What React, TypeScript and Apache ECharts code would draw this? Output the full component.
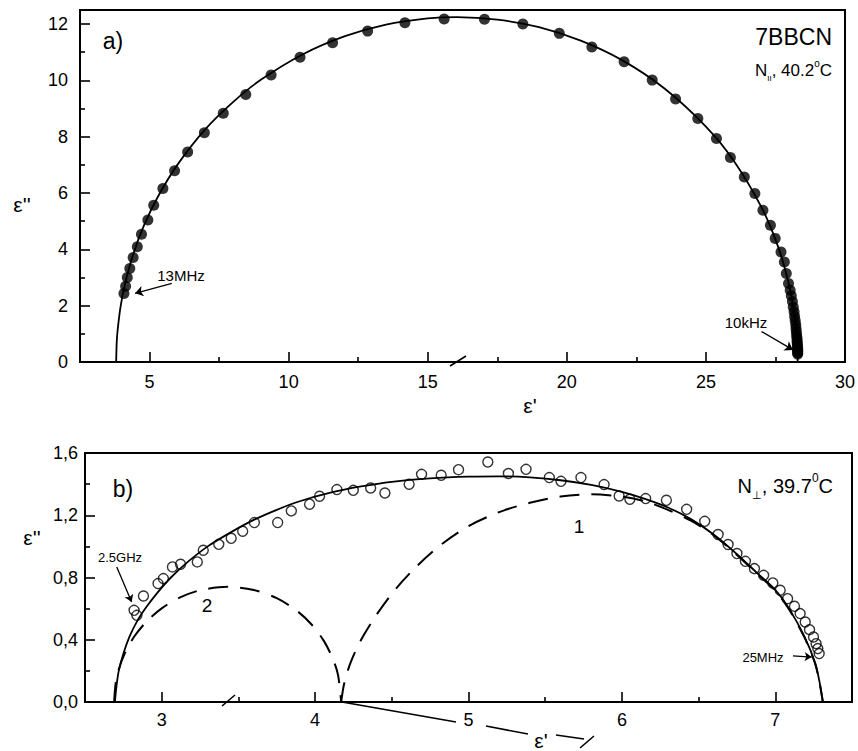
import React, { useEffect, useRef } from 'react';
import * as echarts from 'echarts';

// ---------- panel a) data ----------
const topPtsX = [4.08, 4.14, 4.2, 4.29, 4.41, 4.56, 4.71, 4.94, 5.15, 5.48, 5.9, 6.37, 6.97, 7.65, 8.46, 9.37, 10.41, 11.58, 12.84, 14.18, 15.59, 17.04, 18.42, 19.73, 20.9, 22.06, 23.07, 23.91, 24.71, 25.38, 25.88, 26.38, 26.76, 27.05, 27.32, 27.49, 27.7, 27.82, 27.89, 27.97, 28.03, 28.07, 28.11, 28.14, 28.17, 28.19, 28.21, 28.23, 28.24, 28.25, 28.26, 28.27, 28.28, 28.28, 28.29, 28.29, 28.3, 28.3, 28.3, 28.3, 28.3];
const topPtsY = [2.43, 2.69, 3.0, 3.32, 3.71, 4.09, 4.54, 5.04, 5.57, 6.16, 6.79, 7.46, 8.14, 8.83, 9.5, 10.19, 10.82, 11.34, 11.75, 12.05, 12.18, 12.17, 12.0, 11.67, 11.19, 10.66, 10.01, 9.34, 8.65, 7.94, 7.26, 6.57, 5.98, 5.39, 4.86, 4.39, 3.91, 3.55, 3.14, 2.79, 2.55, 2.35, 2.15, 1.95, 1.78, 1.62, 1.47, 1.33, 1.2, 1.08, 0.97, 0.87, 0.78, 0.7, 0.62, 0.55, 0.48, 0.42, 0.37, 0.32, 0.28];
const topFitX = [3.8, 3.82, 3.85, 3.95, 4.1, 4.4, 4.8, 5.3, 6.0, 7.0, 8.0, 9.0, 10.5, 12.0, 13.5, 15.0, 16.05, 17.5, 19.0, 20.5, 22.0, 23.5, 25.0, 26.0, 27.0, 27.6, 28.0, 28.2, 28.27, 28.29, 28.3];
const topFitY = [0, 0.7, 1.1, 1.91, 2.69, 3.79, 4.85, 5.87, 7.0, 8.26, 9.23, 10.02, 10.92, 11.56, 11.98, 12.2, 12.25, 12.16, 11.89, 11.41, 10.71, 9.72, 8.36, 7.15, 5.49, 4.08, 2.69, 1.56, 0.85, 0.45, 0];
const topXMajor = [5, 10, 15, 20, 25, 30];
const topXMinor = [7.5, 12.5, 17.5, 22.5, 27.5];
const topYMajor = [0, 2, 4, 6, 8, 10, 12];
const topYMinor = [1, 3, 5, 7, 9, 11];

// ---------- panel b) data ----------
const botPtsX = [2.82, 2.838, 2.881, 2.976, 3.011, 3.07, 3.123, 3.232, 3.271, 3.372, 3.453, 3.528, 3.604, 3.756, 3.845, 3.964, 4.029, 4.142, 4.249, 4.362, 4.455, 4.613, 4.694, 4.822, 4.935, 5.126, 5.26, 5.375, 5.527, 5.603, 5.733, 5.884, 5.982, 6.052, 6.155, 6.29, 6.422, 6.54, 6.627, 6.692, 6.75, 6.805, 6.864, 6.924, 6.984, 7.032, 7.08, 7.125, 7.162, 7.195, 7.223, 7.249, 7.266, 7.277, 7.286];
const botPtsY = [0.589, 0.557, 0.681, 0.761, 0.793, 0.868, 0.885, 0.9, 0.975, 1.013, 1.052, 1.097, 1.153, 1.153, 1.228, 1.271, 1.322, 1.365, 1.36, 1.375, 1.343, 1.399, 1.463, 1.457, 1.493, 1.542, 1.468, 1.495, 1.442, 1.418, 1.442, 1.397, 1.324, 1.303, 1.307, 1.296, 1.238, 1.161, 1.076, 1.012, 0.954, 0.904, 0.857, 0.814, 0.765, 0.718, 0.664, 0.615, 0.568, 0.514, 0.465, 0.418, 0.375, 0.343, 0.311];
const botFitX = [2.695, 2.705, 2.72, 2.75, 2.79, 2.84, 2.9, 2.97, 3.06, 3.17, 3.3, 3.45, 3.6, 3.75, 3.9, 4.1, 4.3, 4.5, 4.75, 5.0, 5.2, 5.4, 5.6, 5.8, 6.0, 6.15, 6.3, 6.45, 6.6, 6.75, 6.88, 7.0, 7.09, 7.19, 7.26, 7.29, 7.31];
const botFitY = [0, 0.1, 0.2, 0.31, 0.42, 0.52, 0.61, 0.7, 0.8, 0.9, 1.0, 1.09, 1.17, 1.235, 1.29, 1.345, 1.385, 1.415, 1.437, 1.448, 1.45, 1.443, 1.425, 1.395, 1.35, 1.305, 1.25, 1.175, 1.075, 0.95, 0.83, 0.72, 0.6, 0.42, 0.25, 0.12, 0];
const dash1X = [4.17, 4.19, 4.23, 4.3, 4.4, 4.52, 4.66, 4.82, 5.0, 5.2, 5.4, 5.6, 5.8, 6.0, 6.15, 6.3, 6.45, 6.6, 6.75, 6.88, 7.0, 7.09, 7.19, 7.26, 7.29, 7.31];
const dash1Y = [0, 0.12, 0.25, 0.4, 0.56, 0.72, 0.87, 1.01, 1.13, 1.22, 1.28, 1.32, 1.335, 1.32, 1.29, 1.235, 1.165, 1.07, 0.945, 0.825, 0.715, 0.595, 0.415, 0.245, 0.115, 0];
const dash2X = [2.69, 2.7, 2.72, 2.76, 2.82, 2.9, 3.0, 3.12, 3.25, 3.43, 3.6, 3.75, 3.88, 3.98, 4.06, 4.12, 4.15, 4.17];
const dash2Y = [0, 0.121, 0.209, 0.314, 0.419, 0.516, 0.602, 0.672, 0.718, 0.74, 0.72, 0.667, 0.587, 0.495, 0.388, 0.267, 0.171, 0];
const botXMajor = [3, 4, 5, 6, 7];
const botXMinor = [3.5, 4.5, 5.5, 6.5];
const botYMajor = [0, 0.4, 0.8, 1.2, 1.6];
const botYMinor = [0.2, 0.6, 1.0, 1.4];

const FONT = '"Liberation Sans", Arial, Helvetica, sans-serif';
const zip = (xs: number[], ys: number[]) => xs.map((x, i) => [x, ys[i]]);

function majorX(grid: number, min: number, max: number, ticks: number[], fmt: (v: number) => string, margin: number) {
  return {
    type: 'value', gridIndex: grid, min, max, position: 'bottom',
    axisLine: { show: true, onZero: false, lineStyle: { color: '#000', width: 2 } },
    axisTick: { show: true, inside: true, length: 10, customValues: ticks, lineStyle: { color: '#000', width: 1.6 } },
    axisLabel: { show: true, customValues: ticks, formatter: fmt, margin, color: '#000', fontSize: 18, fontFamily: FONT },
    splitLine: { show: false },
  };
}
function minorX(grid: number, min: number, max: number, ticks: number[]) {
  return {
    type: 'value', gridIndex: grid, min, max, position: 'bottom',
    axisLine: { show: false },
    axisTick: { show: true, inside: true, length: 5, customValues: ticks, lineStyle: { color: '#000', width: 1.6 } },
    axisLabel: { show: false },
    splitLine: { show: false },
  };
}
function majorY(grid: number, min: number, max: number, ticks: number[], fmt: (v: number) => string, margin: number) {
  return {
    type: 'value', gridIndex: grid, min, max, position: 'left',
    axisLine: { show: true, onZero: false, lineStyle: { color: '#000', width: 2 } },
    axisTick: { show: true, inside: true, length: 10, customValues: ticks, lineStyle: { color: '#000', width: 1.6 } },
    axisLabel: { show: true, customValues: ticks, formatter: fmt, margin, color: '#000', fontSize: 18, fontFamily: FONT },
    splitLine: { show: false },
  };
}
function minorY(grid: number, min: number, max: number, ticks: number[]) {
  return {
    type: 'value', gridIndex: grid, min, max, position: 'left',
    axisLine: { show: false },
    axisTick: { show: true, inside: true, length: 5, customValues: ticks, lineStyle: { color: '#000', width: 1.6 } },
    axisLabel: { show: false },
    splitLine: { show: false },
  };
}

const txt = (x: number, y: number, text: string, fontSize: number, align = 'center', extra: any = {}) => ({
  type: 'text', x, y, silent: true,
  style: { text, fontSize, fontFamily: FONT, fill: '#000', align, verticalAlign: 'middle', ...extra },
});
const seg = (x1: number, y1: number, x2: number, y2: number, w = 1.6) => ({
  type: 'line', silent: true, shape: { x1, y1, x2, y2 }, style: { stroke: '#000', lineWidth: w },
});

export default function App() {
  const ref = useRef<HTMLDivElement>(null);
  useEffect(() => {
    if (!ref.current) return;
    const chart = echarts.init(ref.current, undefined, { renderer: 'svg' });
    const arrowStyle = { color: '#000', width: 1.3, type: 'solid' };
    chart.setOption({
      animation: false,
      backgroundColor: '#fff',
      grid: [
        { left: 80, top: 10, width: 765, height: 352, show: true, borderColor: '#000', borderWidth: 2, backgroundColor: 'transparent' },
        { left: 85, top: 453, width: 767, height: 249, show: true, borderColor: '#000', borderWidth: 2, backgroundColor: 'transparent' },
      ],
      xAxis: [
        majorX(0, 2.5, 30, topXMajor, (v: number) => String(v), 11),
        minorX(0, 2.5, 30, topXMinor),
        majorX(1, 2.5, 7.5, botXMajor, (v: number) => String(v), 9),
        minorX(1, 2.5, 7.5, botXMinor),
      ],
      yAxis: [
        majorY(0, 0, 12.5, topYMajor, (v: number) => String(v), 12),
        minorY(0, 0, 12.5, topYMinor),
        majorY(1, 0, 1.6, botYMajor, (v: number) => v.toFixed(1).replace('.', ','), 7),
        minorY(1, 0, 1.6, botYMinor),
      ],
      series: [
        {
          type: 'line', xAxisIndex: 0, yAxisIndex: 0, data: zip(topFitX, topFitY), smooth: 0.3,
          showSymbol: false, lineStyle: { color: '#000', width: 1.8 }, silent: true,
        },
        {
          type: 'scatter', xAxisIndex: 0, yAxisIndex: 0, data: zip(topPtsX, topPtsY), symbol: 'circle', symbolSize: 11,
          itemStyle: { color: '#000' }, silent: true,
          markLine: {
            silent: true, symbol: ['none', 'arrow'], symbolSize: 8, lineStyle: arrowStyle, label: { show: false },
            data: [
              [{ coord: [5.8, 2.79] }, { coord: [4.48, 2.44] }],
              [{ coord: [27.0, 1.08] }, { coord: [28.13, 0.43] }],
            ],
          },
        },
        {
          type: 'line', xAxisIndex: 2, yAxisIndex: 2, data: zip(botFitX, botFitY), smooth: 0.3,
          showSymbol: false, lineStyle: { color: '#000', width: 1.8 }, silent: true,
        },
        {
          type: 'line', xAxisIndex: 2, yAxisIndex: 2, data: zip(dash1X, dash1Y), smooth: 0.3,
          showSymbol: false, lineStyle: { color: '#000', width: 2, type: [20, 12] }, silent: true,
        },
        {
          type: 'line', xAxisIndex: 2, yAxisIndex: 2, data: zip(dash2X, dash2Y), smooth: 0.3,
          showSymbol: false, lineStyle: { color: '#000', width: 2, type: [20, 12] }, silent: true,
        },
        {
          type: 'scatter', xAxisIndex: 2, yAxisIndex: 2, data: zip(botPtsX, botPtsY), symbol: 'circle', symbolSize: 10,
          itemStyle: { color: 'rgba(255,255,255,0)', borderColor: '#000', borderWidth: 1.4 }, silent: true,
          markLine: {
            silent: true, symbol: ['none', 'arrow'], symbolSize: 7, lineStyle: arrowStyle, label: { show: false },
            data: [
              [{ coord: [2.707, 0.868] }, { coord: [2.804, 0.643] }],
              [{ coord: [7.115, 0.296] }, { coord: [7.237, 0.289] }],
            ],
          },
        },
      ],
      graphic: [
        txt(113, 41, 'a)', 23),
        txt(832, 37, '7BBCN', 23, 'right'),
        txt(832, 70, '{a|N}{b|II}{a|, 40.2}{c|o}{a|C}', 17, 'right', {
          rich: {
            a: { fontSize: 17, fontFamily: FONT, fill: '#000', lineHeight: 24, verticalAlign: 'middle' },
            b: { fontSize: 8, fontFamily: FONT, fill: '#000', lineHeight: 24, verticalAlign: 'bottom' },
            c: { fontSize: 10, fontFamily: FONT, fill: '#000', lineHeight: 24, verticalAlign: 'top' },
          },
        }),
        txt(22, 204, "ε''", 21),
        txt(530, 405, "ε'", 21),
        txt(181, 275, '13MHz', 15),
        txt(746, 322, '10kHz', 15),
        seg(450, 366, 466, 356),

        txt(123, 489, 'b)', 23),
        txt(833, 486, '{a|N}{b|⊥}{a|, 39.7}{c|0}{a|C}', 20, 'right', {
          rich: {
            a: { fontSize: 20, fontFamily: FONT, fill: '#000', lineHeight: 28, verticalAlign: 'middle' },
            b: { fontSize: 11, fontFamily: FONT, fill: '#000', lineHeight: 28, verticalAlign: 'bottom' },
            c: { fontSize: 12, fontFamily: FONT, fill: '#000', lineHeight: 28, verticalAlign: 'top' },
          },
        }),
        txt(32, 537, "ε''", 21),
        txt(120, 557, '2.5GHz', 13),
        txt(763, 657, '25MHz', 13),
        txt(207, 605, '2', 19),
        txt(579, 526, '1', 19),
        txt(541, 740, "ε'", 21),
        seg(222, 706, 235, 695),
        seg(342, 702, 456, 722),
        seg(486, 726, 528, 734),
        seg(556, 735, 584, 739),
        seg(580, 748, 594, 736),
      ],
    });
    return () => chart.dispose();
  }, []);
  return <div ref={ref} style={{ position: 'absolute', left: 0, top: 0, width: 858, height: 751 }} />;
}
